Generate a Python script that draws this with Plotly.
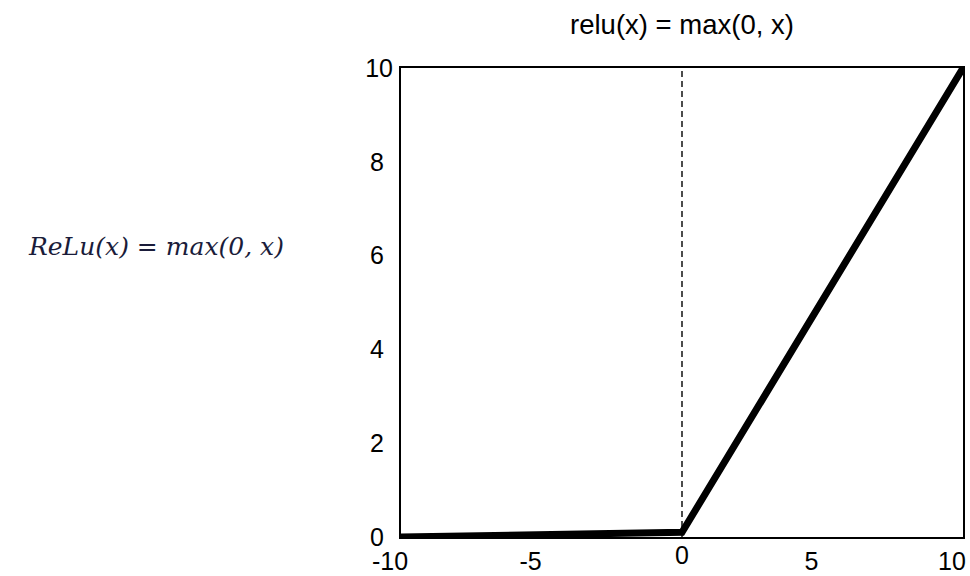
import plotly.graph_objects as go

# Sampled points of the activation curve
x_vals = [-10, 0, 10]
y_vals = [0.0, 0.1, 10.0]

# Tick values: the origin ticks sit on their own overlaid axes
x_ticks = [-10, -5, 5, 10]
x_ticks_origin = [0]
y_ticks = [0, 2, 4, 6, 8]
y_ticks_top = [10]

title_text = "relu(x) = max(0, x)"
formula_text = "ReLu(x) = max(0, x)"

fig = go.Figure()

fig.add_trace(go.Scatter(
    x=x_vals, y=y_vals, mode="lines",
    line=dict(color="black", width=7),
    showlegend=False, hoverinfo="skip",
))
# Invisible companion trace so the overlaid axes are drawn
fig.add_trace(go.Scatter(
    x=x_vals, y=y_vals, mode="lines", xaxis="x2", yaxis="y2",
    line=dict(color="rgba(0,0,0,0)", width=0),
    showlegend=False, hoverinfo="skip",
))

# Dashed guide at x = 0
fig.add_shape(type="line", xref="x", yref="paper", x0=0, x1=0, y0=0, y1=1,
              line=dict(color="black", width=1.4, dash="6px,4px"), layer="below")

fig.add_annotation(
    text=formula_text, xref="paper", yref="paper",
    x=-0.205, y=0.619, xanchor="right", yanchor="middle", showarrow=False,
    font=dict(family="DejaVu Serif", size=25, color="#1a1c3a", style="italic"),
)

axis_font = dict(family="Liberation Sans, Arial", size=25, color="black")
title_font = dict(family="Liberation Sans, Arial", size=27.5, color="black")

common = dict(showgrid=False, zeroline=False, ticks="", tickfont=axis_font,
              ticklabeloverflow="allow", automargin=False)

fig.update_layout(
    width=970, height=576,
    margin=dict(l=401, r=7, t=68, b=39, autoexpand=False),
    paper_bgcolor="white", plot_bgcolor="white",
    title=dict(text=title_text, x=(401 + 963) / 2 / 970, xanchor="center",
               y=1 - 24 / 576, yanchor="middle", font=title_font, automargin=False),
    xaxis=dict(range=[-10, 10], tickvals=x_ticks, ticktext=[str(v) for v in x_ticks],
               showline=True, linecolor="black", linewidth=2, mirror=True,
               ticklabelshift=-11, ticklabelstandoff=1, **common),
    xaxis2=dict(range=[-10, 10], tickvals=x_ticks_origin,
                ticktext=[str(v) for v in x_ticks_origin],
                overlaying="x", anchor="y", side="bottom", showline=False,
                ticklabelstandoff=1, **common),
    yaxis=dict(range=[0, 10], tickvals=y_ticks, ticktext=[str(v) for v in y_ticks],
               showline=True, linecolor="black", linewidth=2, mirror=True,
               ticklabelstandoff=10, **common),
    yaxis2=dict(range=[0, 10], tickvals=y_ticks_top, ticktext=[str(v) for v in y_ticks_top],
                overlaying="y", anchor="x", side="left", showline=False,
                ticklabelstandoff=7, **common),
)

fig.write_html("out.html")
